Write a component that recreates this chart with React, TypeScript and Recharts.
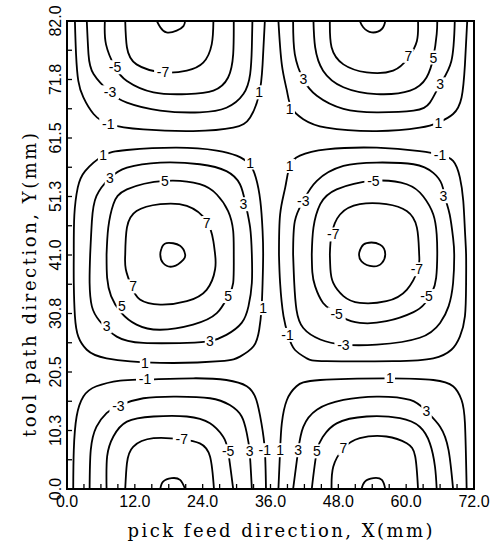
import {
  ComposedChart,
  Line,
  ReferenceArea,
  Scatter,
  XAxis,
  YAxis,
} from "recharts";

type Pt = [number, number];

// axis ticks (minor ticks every 3 mm in X, every 5.125 mm in Y)
const xTicks = [0, 3, 6, 9, 12, 15, 18, 21, 24, 27, 30, 33, 36, 39, 42, 45, 48, 51, 54, 57, 60, 63, 66, 69, 72];
const xLabelTicks = [0, 12, 24, 36, 48, 60, 72];
const yTicks = [0, 5.125, 10.25, 15.375, 20.5, 25.625, 30.75, 35.875, 41, 46.125, 51.25, 56.375, 61.5, 66.625, 71.75, 76.875, 82];
const yLabelTicks = [0, 10.25, 20.5, 30.75, 41, 51.25, 61.5, 71.75, 82];

// contour lines (x mm, y mm)
const topLeft1: Pt[] = [[1.4, 82], [1.6, 76.2], [2.0, 71.5], [2.9, 68.6], [4.7, 65.7], [7.6, 63.9], [13.5, 63.0], [22.3, 62.7], [29.4, 63.3], [32.4, 65.1], [34.0, 69.2], [34.6, 74.4], [35.0, 82]];
const topLeft3: Pt[] = [[3.5, 82], [3.8, 76.2], [4.7, 72.7], [7.6, 69.5], [10.6, 67.7], [16.5, 66.3], [23.5, 66.0], [28.2, 66.8], [31.2, 69.2], [32.4, 72.7], [32.7, 77.4], [32.8, 82]];
const topLeft5: Pt[] = [[6.7, 82], [6.9, 77.9], [8.5, 73.9], [10.6, 71.5], [15.3, 69.5], [21.2, 69.2], [25.9, 69.8], [28.5, 72.1], [29.4, 76.2], [29.5, 82]];
const topLeft7: Pt[] = [[10.3, 82], [10.6, 77.4], [12.3, 74.4], [17.0, 73.0], [21.2, 73.3], [24.1, 74.7], [25.6, 77.9], [25.9, 82]];
const topLeftPeak: Pt[] = [[15.9, 82], [16.5, 80.9], [17.6, 80.0], [19.4, 80.3], [20.6, 81.1], [20.9, 82]];

const topRight1: Pt[] = [[37.4, 82], [38.0, 74.4], [38.9, 69.8], [39.7, 66.8], [41.8, 64.8], [45.9, 63.3], [54.8, 62.7], [62.4, 63.3], [65.7, 64.2], [68.3, 65.7], [69.8, 68.6], [70.4, 74.4], [70.8, 82]];
const topRight3: Pt[] = [[40.0, 82], [40.3, 76.2], [41.8, 71.8], [44.2, 68.9], [48.9, 66.6], [54.8, 66.0], [61.3, 66.3], [64.2, 67.7], [66.0, 70.9], [68.0, 75.0], [68.6, 82]];
const topRight5: Pt[] = [[43.6, 82], [43.9, 77.4], [45.3, 73.3], [48.9, 70.4], [54.8, 69.2], [60.7, 69.8], [63.6, 72.1], [64.8, 75.6], [65.4, 79.7], [65.5, 82]];
const topRight7: Pt[] = [[46.5, 82], [46.8, 77.4], [48.9, 74.4], [53.0, 73.0], [57.7, 73.3], [60.4, 75.6], [61.9, 78.5], [62.1, 82]];
const topRightPeak: Pt[] = [[51.8, 82], [52.4, 80.9], [53.9, 80.0], [55.7, 80.6], [56.3, 82]];

const midLeft1: Pt[] = [[1.2, 41], [1.3, 48.0], [1.9, 52.8], [3.2, 55.7], [6.4, 58.4], [10.6, 59.4], [19.4, 59.8], [26.5, 59.3], [30.0, 58.4], [32.2, 57.0], [33.4, 54.6], [34.2, 50.5], [34.6, 45.2], [34.7, 41], [34.6, 36.1], [34.4, 31.4], [34.0, 27.9], [33.0, 25.0], [30.6, 23.2], [27.1, 22.4], [16.5, 22.1], [7.0, 22.9], [3.5, 24.4], [2.0, 26.7], [1.4, 30.3], [1.2, 36.1], [1.2, 41]];
const midLeft3: Pt[] = [[4.1, 41.1], [4.4, 46.9], [5.2, 51.3], [7.6, 54.5], [10.6, 56.3], [16.5, 57.2], [23.5, 56.9], [28.2, 55.7], [30.6, 53.4], [31.6, 49.9], [32.4, 45.8], [32.7, 41.1], [32.7, 36.1], [32.1, 32.0], [30.9, 29.1], [28.2, 27.0], [25.3, 25.9], [21.2, 25.6], [13.5, 25.6], [8.8, 26.7], [5.8, 29.4], [4.4, 32.0], [4.0, 36.1], [4.1, 41.1]];
const midLeft5: Pt[] = [[7.0, 41.1], [7.3, 45.8], [8.2, 49.9], [10.6, 52.5], [17.3, 54.0], [23.5, 53.4], [26.5, 51.6], [28.5, 48.7], [29.4, 45.2], [29.5, 41.1], [29.4, 36.1], [28.5, 33.8], [26.5, 30.8], [22.3, 28.8], [16.5, 27.9], [12.3, 28.8], [9.5, 31.0], [7.8, 33.8], [7.1, 37.0], [7.0, 41.1]];
const midLeft7: Pt[] = [[10.3, 41.1], [10.6, 45.8], [12.3, 48.7], [16.5, 49.9], [21.2, 49.6], [24.7, 46.9], [25.9, 43.4], [26.2, 41.1], [26.2, 38.5], [24.7, 34.9], [21.2, 32.9], [16.5, 32.3], [12.9, 33.2], [11.4, 35.5], [10.4, 38.5], [10.3, 41.1]];
const midLeftPeak: Pt[] = [[16.7, 42.1], [17.6, 43.1], [20.0, 42.6], [20.9, 41.1], [20.6, 40.2], [18.8, 39.0], [17.0, 39.6], [16.5, 41.1], [16.7, 42.1]];

const midRight1: Pt[] = [[37.5, 41], [37.7, 48.1], [38.6, 52.8], [39.4, 56.6], [41.2, 58.4], [45.9, 59.5], [54.8, 59.8], [62.4, 59.2], [66.0, 58.6], [68.3, 57.5], [69.5, 54.6], [70.1, 50.5], [70.4, 45.2], [70.6, 41.1], [70.6, 36.1], [70.4, 30.3], [69.5, 26.7], [68.0, 24.4], [64.8, 22.9], [57.7, 22.4], [45.9, 22.4], [42.4, 22.9], [40.3, 24.4], [39.2, 26.7], [38.3, 30.3], [37.7, 36.1], [37.5, 41]];
const midRight3: Pt[] = [[40.0, 41.1], [40.3, 46.9], [41.8, 50.5], [44.2, 54.0], [48.9, 56.6], [54.8, 57.2], [61.3, 56.9], [64.8, 55.4], [66.3, 53.4], [66.9, 51.0], [67.7, 48.1], [68.3, 44.0], [68.5, 41.1], [68.3, 36.1], [67.5, 32.0], [66.0, 29.1], [62.4, 26.5], [54.8, 25.3], [48.9, 25.3], [44.8, 26.2], [41.8, 28.2], [40.6, 31.4], [40.2, 36.1], [40.0, 41.1]];
const midRight5: Pt[] = [[43.3, 41.1], [43.6, 45.8], [44.8, 49.9], [47.7, 52.5], [54.2, 54.0], [60.1, 53.4], [63.0, 51.3], [64.8, 48.1], [65.4, 44.6], [65.5, 41.1], [65.3, 37.0], [64.6, 34.5], [63.3, 32.5], [61.3, 31.0], [56.5, 29.4], [51.8, 29.1], [48.9, 30.0], [47.0, 31.3], [45.3, 32.6], [43.9, 35.5], [43.4, 38.0], [43.3, 41.1]];
const midRight7: Pt[] = [[46.5, 41.1], [46.8, 44.6], [48.3, 48.1], [51.8, 49.9], [56.5, 49.9], [60.1, 48.7], [61.9, 45.8], [62.3, 41.1], [62.1, 38.5], [60.1, 34.9], [56.5, 32.9], [51.8, 32.6], [48.9, 33.8], [47.1, 36.1], [46.6, 38.5], [46.5, 41.1]];
const midRightPeak: Pt[] = [[52.1, 42.4], [53.0, 43.1], [55.4, 42.8], [56.3, 41.1], [55.7, 39.6], [54.2, 39.0], [52.1, 39.9], [51.7, 41.4], [52.1, 42.4]];

const bottomLeft1: Pt[] = [[1.1, 0], [1.2, 6.8], [1.7, 12.7], [2.9, 16.2], [5.2, 18.0], [9.4, 19.0], [13.8, 19.2], [22.3, 19.4], [28.2, 19.1], [31.8, 18.0], [33.5, 15.6], [34.4, 11.5], [35.0, 6.8], [35.2, 0]];
const bottomLeft3: Pt[] = [[4.0, 0], [4.2, 6.8], [5.2, 10.9], [7.0, 13.3], [9.1, 14.6], [13.5, 15.9], [19.4, 16.2], [25.3, 15.9], [28.8, 14.7], [30.9, 12.7], [31.8, 9.8], [32.3, 6.6], [32.7, 0]];
const bottomLeft5: Pt[] = [[7.0, 0], [7.1, 5.7], [8.2, 9.2], [10.6, 11.8], [15.3, 12.7], [21.2, 12.7], [25.3, 11.5], [27.6, 9.2], [28.5, 6.6], [29.4, 0]];
const bottomLeft7: Pt[] = [[10.3, 0], [10.6, 4.5], [11.7, 7.4], [15.3, 8.9], [20.3, 8.7], [23.5, 8.0], [25.3, 5.7], [26.0, 0]];
const bottomLeftPeak: Pt[] = [[16.5, 0], [17.0, 1.3], [18.5, 1.9], [20.0, 1.6], [20.9, 0]];

const bottomRight1: Pt[] = [[37.4, 0], [37.7, 6.8], [38.0, 11.5], [38.9, 15.6], [40.6, 18.0], [44.8, 19.1], [57.1, 19.4], [64.8, 19.1], [68.3, 18.0], [69.8, 15.6], [70.4, 11.5], [70.7, 0]];
const bottomRight3: Pt[] = [[40.0, 0], [40.9, 6.8], [41.8, 10.9], [44.2, 13.9], [48.9, 15.6], [54.8, 16.2], [60.7, 15.6], [63.6, 13.6], [66.0, 10.9], [67.5, 6.8], [68.3, 0]];
const bottomRight5: Pt[] = [[43.3, 0], [44.2, 6.6], [45.3, 9.2], [47.7, 11.5], [53.0, 12.7], [58.9, 12.4], [62.4, 10.9], [64.2, 8.0], [65.1, 3.9], [65.4, 0]];
const bottomRight7: Pt[] = [[46.8, 0], [47.1, 3.9], [48.9, 7.1], [51.8, 8.9], [56.5, 9.2], [60.1, 8.0], [61.6, 5.7], [62.1, 0]];
const bottomRightPeak: Pt[] = [[52.1, 0], [52.7, 1.3], [54.2, 1.9], [55.7, 1.6], [56.3, 0]];

// contour value labels (x, y, text)
const contourLabels: [number, number, string][] = [
  [8.5, 73.9, "-5"], [17.0, 73.0, "-7"], [7.6, 69.5, "-3"], [7.3, 63.9, "-1"], [34.0, 69.5, "1"],
  [41.8, 71.8, "3"], [60.4, 75.9, "7"], [64.8, 75.6, "5"], [66.0, 70.9, "3"], [39.4, 66.6, "1"], [65.7, 64.2, "1"],
  [6.4, 58.6, "1"], [7.6, 54.5, "3"], [17.3, 54.0, "5"], [32.4, 57.2, "1"], [31.2, 49.9, "3"], [24.7, 46.6, "7"],
  [11.7, 35.5, "7"], [9.7, 32.0, "5"], [7.0, 28.5, "3"], [28.5, 33.8, "5"], [34.7, 31.7, "1"], [25.3, 25.9, "3"], [13.8, 22.1, "1"],
  [39.4, 56.6, "1"], [66.0, 58.6, "-1"], [54.2, 54.0, "-5"], [41.8, 50.5, "-3"], [66.6, 51.3, "3"], [47.1, 44.6, "-7"],
  [61.9, 38.5, "-7"], [63.6, 33.8, "-5"], [47.7, 30.6, "-5"], [48.9, 25.3, "-3"], [39.0, 27.0, "-1"],
  [13.8, 19.2, "-1"], [9.1, 14.6, "-3"], [20.3, 8.7, "-7"], [28.5, 6.6, "-5"], [32.3, 6.6, "3"], [35.0, 6.8, "-1"],
  [37.7, 6.8, "1"], [40.9, 6.8, "3"], [44.2, 6.6, "5"], [48.9, 7.1, "7"], [57.1, 19.4, "1"], [63.6, 13.6, "3"],
];

const contourLines: Record<string, Pt[]> = {
  topLeft1, topLeft3, topLeft5, topLeft7, topLeftPeak,
  topRight1, topRight3, topRight5, topRight7, topRightPeak,
  midLeft1, midLeft3, midLeft5, midLeft7, midLeftPeak,
  midRight1, midRight3, midRight5, midRight7, midRightPeak,
  bottomLeft1, bottomLeft3, bottomLeft5, bottomLeft7, bottomLeftPeak,
  bottomRight1, bottomRight3, bottomRight5, bottomRight7, bottomRightPeak,
};

const SANS = "'Liberation Sans', Arial, sans-serif";
const SERIF = "'DejaVu Serif', serif";

function XTick(props: any) {
  const { x, y, payload } = props;
  const v = payload.value as number;
  return (
    <g>
      <line x1={x} x2={x} y1={y} y2={y - 5} stroke="#000" strokeWidth={1.3} />
      {xLabelTicks.includes(v) ? (
        <text x={x} y={y + 18} textAnchor="middle" fontSize={16} fontFamily={SANS} fill="#000">
          {v.toFixed(1)}
        </text>
      ) : null}
    </g>
  );
}

function YTick(props: any) {
  const { x, y, payload } = props;
  const v = payload.value as number;
  const tx = x - 12;
  return (
    <g>
      <line x1={x} x2={x + 5} y1={y} y2={y} stroke="#000" strokeWidth={1.3} />
      {yLabelTicks.includes(v) ? (
        <text
          x={tx}
          y={y}
          transform={`rotate(-90, ${tx}, ${y})`}
          textAnchor="middle"
          dominantBaseline="central"
          fontSize={16}
          fontFamily={SANS}
          fill="#000"
        >
          {v.toFixed(1)}
        </text>
      ) : null}
    </g>
  );
}

function ContourLabel(props: any) {
  const { cx, cy, payload } = props;
  const t = payload.t as string;
  const w = t.length * 7.5 + 3;
  return (
    <g>
      <rect x={cx - w / 2} y={cy - 7} width={w} height={14} fill="#fff" />
      <text x={cx} y={cy} textAnchor="middle" dominantBaseline="central" fontSize={14} fontFamily={SANS} fill="#000">
        {t}
      </text>
    </g>
  );
}

export default function App() {
  const labelData = contourLabels.map(([x, y, t]) => ({ x, y, t }));

  return (
    <div style={{ position: "fixed", left: 0, top: 0, width: 499, height: 543, background: "#fff" }}>
      <ComposedChart
        width={499}
        height={543}
        margin={{ top: 21, right: 25, bottom: 24, left: 37 }}
      >
        <XAxis
          type="number"
          dataKey="x"
          domain={[0, 72]}
          ticks={xTicks}
          interval={0}
          height={30}
          tickSize={0}
          tickMargin={0}
          axisLine={false}
          tick={XTick}
          allowDataOverflow
        />
        <YAxis
          type="number"
          dataKey="y"
          domain={[0, 82]}
          ticks={yTicks}
          interval={0}
          width={30}
          tickSize={0}
          tickMargin={0}
          axisLine={false}
          tick={YTick}
          allowDataOverflow
        />
        {Object.entries(contourLines).map(([name, pts]) => (
          <Line
            key={name}
            data={pts.map(([x, y]) => ({ x, y }))}
            dataKey="y"
            type="natural"
            stroke="#000"
            strokeWidth={1.8}
            dot={false}
            activeDot={false}
            legendType="none"
            isAnimationActive={false}
          />
        ))}
        <Scatter data={labelData} shape={ContourLabel} isAnimationActive={false} />
        <ReferenceArea
          x1={0}
          x2={72}
          y1={0}
          y2={82}
          fill="none"
          stroke="#000"
          strokeWidth={2}
          ifOverflow="visible"
        />
      </ComposedChart>
      <svg
        width={499}
        height={543}
        style={{ position: "absolute", left: 0, top: 0, pointerEvents: "none" }}
      >
        <text
          x={280}
          y={537}
          textAnchor="middle"
          fontSize={18}
          fontFamily={SERIF}
          fill="#000"
          textLength={305}
          lengthAdjust="spacing"
        >
          pick feed direction, X(mm)
        </text>
        <text
          x={36}
          y={285}
          transform="rotate(-90, 36, 285)"
          textAnchor="middle"
          fontSize={18}
          fontFamily={SERIF}
          fill="#000"
          textLength={304}
          lengthAdjust="spacing"
        >
          tool path direction, Y(mm)
        </text>
      </svg>
    </div>
  );
}
